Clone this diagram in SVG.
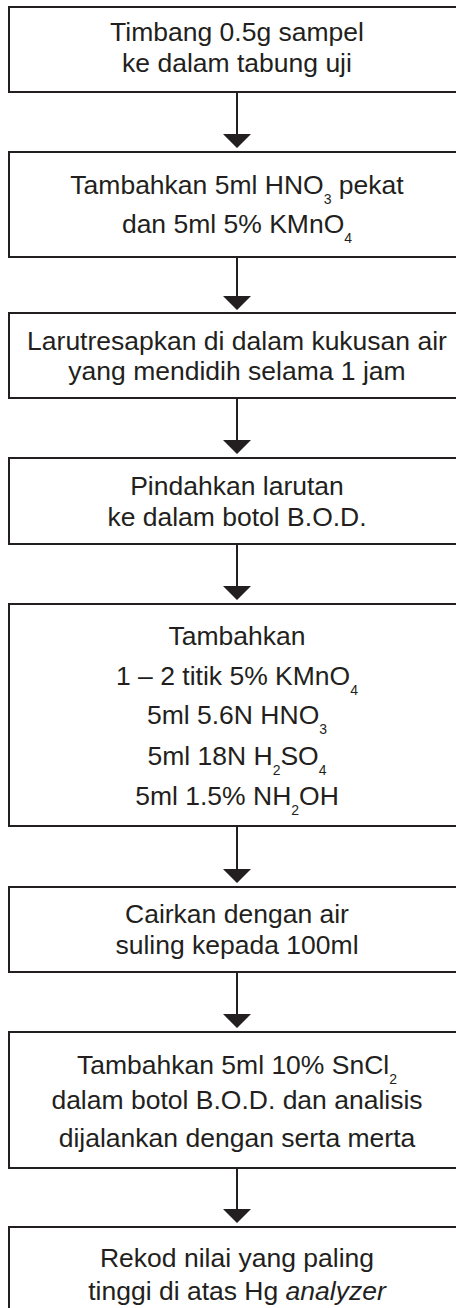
<svg xmlns="http://www.w3.org/2000/svg" width="456" height="1308" viewBox="0 0 456 1308">
  <style>
    .box { fill: #ffffff; stroke: #231f20; stroke-width: 2; }
    .t { font-family: "Liberation Sans", Arial, sans-serif; font-size: 26.5px; fill: #231f20; text-anchor: middle; }
    .sub { font-size: 14px; }
    .wire { stroke: #231f20; stroke-width: 2; fill: none; }
    .head { fill: #231f20; }
  </style>
  <rect width="456" height="1308" fill="#ffffff"/>

  <g id="step1">
    <rect class="box" x="9" y="7" width="456" height="85"/>
    <text class="t" x="237" y="41">Timbang 0.5g sampel</text>
    <text class="t" x="237" y="72">ke dalam tabung uji</text>
  </g>

  <g id="step2">
    <rect class="box" x="9" y="152" width="456" height="105"/>
    <text class="t" x="237" y="194">Tambahkan 5ml HNO<tspan class="sub" dy="10">3</tspan><tspan dy="-10"> pekat</tspan></text>
    <text class="t" x="237" y="233">dan 5ml 5% KMnO<tspan class="sub" dy="10">4</tspan></text>
  </g>

  <g id="step3">
    <rect class="box" x="9" y="313" width="456" height="85"/>
    <text class="t" x="237" y="350">Larutresapkan di dalam kukusan air</text>
    <text class="t" x="237" y="380">yang mendidih selama 1 jam</text>
  </g>

  <g id="step4">
    <rect class="box" x="9" y="458" width="456" height="86"/>
    <text class="t" x="237" y="495">Pindahkan larutan</text>
    <text class="t" x="237" y="526">ke dalam botol B.O.D.</text>
  </g>

  <g id="step5">
    <rect class="box" x="9" y="604" width="456" height="222"/>
    <text class="t" x="237" y="645">Tambahkan</text>
    <text class="t" x="237" y="685">1 – 2 titik 5% KMnO<tspan class="sub" dy="10">4</tspan></text>
    <text class="t" x="237" y="724">5ml 5.6N HNO<tspan class="sub" dy="10">3</tspan></text>
    <text class="t" x="237" y="765">5ml 18N H<tspan class="sub" dy="10">2</tspan><tspan dy="-10">SO</tspan><tspan class="sub" dy="10">4</tspan></text>
    <text class="t" x="237" y="805">5ml 1.5% NH<tspan class="sub" dy="10">2</tspan><tspan dy="-10">OH</tspan></text>
  </g>

  <g id="step6">
    <rect class="box" x="9" y="887" width="456" height="85"/>
    <text class="t" x="237" y="923">Cairkan dengan air</text>
    <text class="t" x="237" y="954">suling kepada 100ml</text>
  </g>

  <g id="step7">
    <rect class="box" x="9" y="1032" width="456" height="136"/>
    <text class="t" x="237" y="1074">Tambahkan 5ml 10% SnCl<tspan class="sub" dy="10">2</tspan></text>
    <text class="t" x="237" y="1109">dalam botol B.O.D. dan analisis</text>
    <text class="t" x="237" y="1147">dijalankan dengan serta merta</text>
  </g>

  <g id="step8">
    <rect class="box" x="9" y="1227" width="456" height="100"/>
    <text class="t" x="237" y="1267">Rekod nilai yang paling</text>
    <text class="t" x="237" y="1300">tinggi di atas Hg <tspan font-style="italic">analyzer</tspan></text>
  </g>

  <g id="connectors">
    <path class="wire" d="M237 92V136 M237 257V296 M237 398V440 M237 544V586 M237 826V869 M237 972V1014 M237 1168V1209"/>
    <path class="head" d="M223 134H251L237 148Z M223 296H251L237 310Z M223 440H251L237 454Z M223 586H251L237 600Z M223 869H251L237 883Z M223 1014H251L237 1028Z M223 1209H251L237 1223Z"/>
  </g>
</svg>
